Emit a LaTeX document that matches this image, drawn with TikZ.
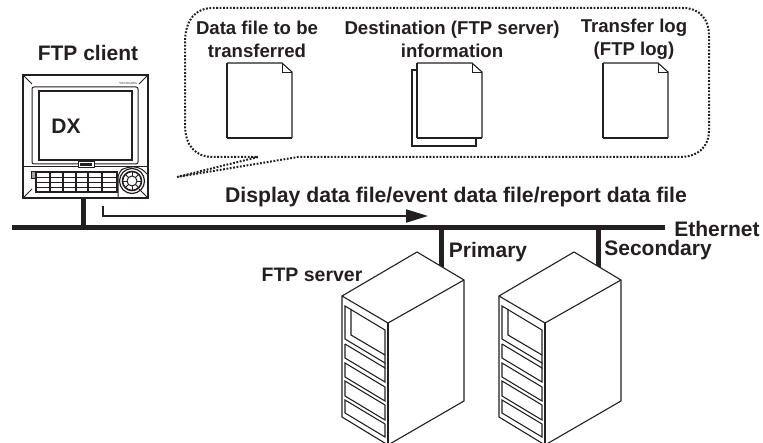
\documentclass[tikz,border=0pt]{standalone}
\usepackage{fontspec}
\setmainfont{Liberation Sans}
\usetikzlibrary{arrows.meta}
\definecolor{ink}{HTML}{231F20}
\tikzset{
  lab/.style={font=\fontsize{21}{23}\selectfont\bfseries,text=ink,inner sep=0pt,align=center},
  toplab/.style={font=\fontsize{18.6}{23}\selectfont\bfseries,text=ink,inner sep=0pt,align=center},
  bus/.style={line width=5pt,draw=ink},
  thin/.style={line width=1pt,draw=ink},
  med/.style={line width=1.6pt,draw=ink},
  rk/.style={line width=1.1pt,draw=ink},
  dots/.style={line width=2pt,draw=ink,dash pattern=on 1.8pt off 1.6pt},
}
\newcommand{\filedoc}[2]{%
  \fill[white] (#1,#2)--++(55,0)--++(10,9)--++(0,66)--++(-65,0)--cycle;
  \draw[rk] (#1,#2)--++(55,0)--++(10,9)--++(0,66);
  \draw[rk] (#1,#2)--++(0,75);
  \draw[line width=1.8pt,draw=ink] (#1,#2+75)--++(65,0);
  \draw[line width=.8pt,draw=ink] (#1+55,#2)--++(0,9)--++(10,0);
}
\newcommand{\rack}[1]{%
\begin{scope}[shift={(#1,0)}]
\filldraw[fill=white,rk] (342,296)--(417,252)--(464,280)--(464,401)--(388,445)--(342,417)--cycle;
\draw[rk] (342,296)--(388,323)--(464,280);
\draw[rk] (388,323)--(388,445);
\draw[rk] (345,306)--(385,330)--(385,363)--(345,339)--cycle;
\draw[rk] (351,309)--(351,335)--(385,355);
\draw[rk] (345,344)--(385,368)--(385,363);
\draw[rk] (345,344)--(345,358)--(385,382)--(385,368);
\draw[rk] (345,363)--(385,387)--(385,401)--(345,377)--cycle;
\draw[rk] (345,381)--(385,405)--(385,420)--(345,396)--cycle;
\draw[rk] (345,400)--(385,424)--(385,437)--(345,413)--cycle;
\end{scope}}
\begin{document}
\begin{tikzpicture}[x=1pt,y=-1pt]
\useasboundingbox (0,0) rectangle (763,443);
% bus
\coordinate (busL) at (12,228);
\coordinate (busR) at (665,228);
\draw[bus] (busL)--(busR);
\coordinate (dxS) at (83,198);
\coordinate (dxB) at (83,228);
\draw[bus] (dxS)--(dxB);
\coordinate (p1) at (441,228);
\coordinate (p1b) at (441,268);
\draw[bus] (p1)--(p1b);
\coordinate (p2) at (598,228);
\coordinate (p2b) at (598,268);
\draw[bus] (p2)--(p2b);
% arrow
\coordinate (aS) at (103,206);
\coordinate (aM) at (103,216);
\coordinate (aE) at (428,216);
\draw[line width=2pt,draw=ink,-{Triangle[length=22pt,width=13pt]}] (aS)--(aM)--(aE);
% callout
\draw[dots] (177,177) -- (258,157) -- (213,157) .. controls (195,157) and (185,145) .. (185,125)
  -- (185,40) .. controls (186,20) and (195,8) .. (213,8) -- (683,8)
  .. controls (700,8) and (709,20) .. (709,35) -- (709,130)
  .. controls (709,147) and (698,157) .. (680,157) -- (298,157) -- (177,177);
% docs
\filedoc{227}{63}
\filldraw[fill=white,rk] (412,70)--(476,70)--(476,146)--(412,146)--cycle;
\filedoc{417}{63}
\filedoc{603}{63}
% DX
\draw[med,fill=white] (23,75)--(148,75)--(148,198)--(23,198)--cycle;
\draw[thin] (23,167)--(148,167);
\draw[thin] (23,75)--(32,84) (148,75)--(139,84);
\draw[thin] (23,198)--(32,189) (148,198)--(139,189);
\draw[thin,rounded corners=2pt] (32,87)--(138,87)--(138,164)--(32,164)--cycle;
\draw[line width=2.2pt,draw=ink] (39,91)--(132,91)--(132,160)--(39,160)--cycle;
\node[inner sep=0pt,font=\fontsize{3}{3}\selectfont\sffamily,text=ink] (brand) at (128,83) {YOKOGAWA};
\draw[thin,fill=white] (78,162)--(94,162)--(94,168)--(78,168)--cycle;
\fill[ink] (80,163.5) rectangle (92,166);
% keys
\draw[line width=1.4pt,draw=ink] (36,172) rectangle (117,192);
\foreach \k in {177,182,187}{\draw[line width=.8pt,draw=ink] (36,\k)--(117,\k);}
\foreach \k in {50,63,76,88,102}{\draw[line width=1.6pt,draw=ink] (\k,172)--(\k,192);}
\draw[line width=.8pt,draw=ink,fill=ink!40] (31,171) rectangle (35,178);
% dial
\draw[thin,rounded corners=6pt] (118,198)--(118,172)--(126,167)--(140,167)--(148,175);
\draw[line width=1.2pt,draw=ink] (132,181) circle (12.5);
\draw[line width=1.6pt,draw=ink] (132,181) circle (9.5);
\draw[thin] (132,181) circle (5);
\foreach \a in {0,45,...,315}{\draw[line width=.8pt,draw=ink] (132,181)++(\a:5)--++(\a:4.5);}
% servers
\rack{0}
\rack{157}
% labels
\node[lab] (client) at (88,53) {FTP client};
\node[lab] (dx) at (66,126) {DX};
\node[toplab] (d1) at (257,39) {Data file to be\\transferred};
\node[toplab] (d2) at (452,39) {Destination (FTP server)\\information};
\node[toplab] (d3) at (634,39) {Transfer log\\(FTP log)};
\node[lab,font=\fontsize{21.2}{23}\selectfont\bfseries] (disp) at (456,197) {Display data file/event data file/report data file};
\node[lab] (eth) at (717,229) {Ethernet};
\node[lab] (prim) at (488,252) {Primary};
\node[lab] (sec) at (658,250) {Secondary};
\node[lab,font=\fontsize{19.5}{23}\selectfont\bfseries] (srv) at (312,275) {FTP server};
\end{tikzpicture}
\end{document}
